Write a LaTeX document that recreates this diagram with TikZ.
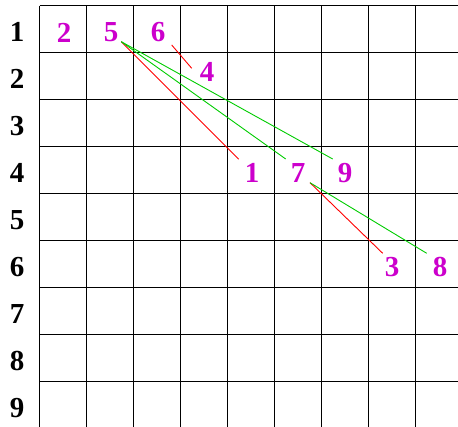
\documentclass[tikz,border=0pt]{standalone}
\usepackage{fontspec}
\setmainfont{Liberation Serif}
\definecolor{mag}{RGB}{204,0,204}
\definecolor{grn}{RGB}{0,204,0}
\begin{document}
\begin{tikzpicture}[x=1pt,y=-1pt,
  gridline/.style={black,line width=1pt},
  rowlab/.style={font=\fontsize{29}{29}\selectfont\bfseries,inner sep=0pt},
  numlab/.style={font=\fontsize{29}{29}\selectfont\bfseries,text=mag,inner sep=0pt},
  redline/.style={red,line width=0.9pt},
  grnline/.style={grn,line width=0.9pt}]
\useasboundingbox (0,0) rectangle (458,427);
% grid
\foreach \i in {0,...,8} {
  \draw[gridline] (39.5+47*\i,6) -- (39.5+47*\i,427);
}
\foreach \j in {0,...,8} {
  \draw[gridline] (39.5,6+47*\j) -- (458,6+47*\j);
}
% row labels
\foreach \j in {1,...,9} {
  \node[rowlab] (r\j) at (17,32+47*\j-47) {\j};
}
% numbers
\node[numlab] (n2) at (64,32.5) {2};
\node[numlab] (n5) at (111,32.5) {5};
\node[numlab] (n6) at (158,32.5) {6};
\node[numlab] (n4) at (207,71.5) {4};
\node[numlab] (n1) at (252,173) {1};
\node[numlab] (n7) at (298,173) {7};
\node[numlab] (n9) at (345,173) {9};
\node[numlab] (n3) at (392,267) {3};
\node[numlab] (n8) at (440,267) {8};
% connector ends
\coordinate (s5) at (121.3,41.7);
\coordinate (e1) at (238.7,159.3);
\coordinate (e7) at (285.7,159);
\coordinate (e9) at (332.7,159);
\coordinate (s6) at (171.7,45);
\coordinate (e4) at (191.7,68.3);
\coordinate (s7) at (310,182.7);
\coordinate (e3) at (382.7,253.3);
\coordinate (e8) at (426.7,253.3);
\draw[redline] (s5) -- (e1);
\draw[grnline] (s5) -- (e7);
\draw[grnline] (s5) -- (e9);
\draw[redline] (s6) -- (e4);
\draw[redline] (s7) -- (e3);
\draw[grnline] (s7) -- (e8);
\end{tikzpicture}
\end{document}
